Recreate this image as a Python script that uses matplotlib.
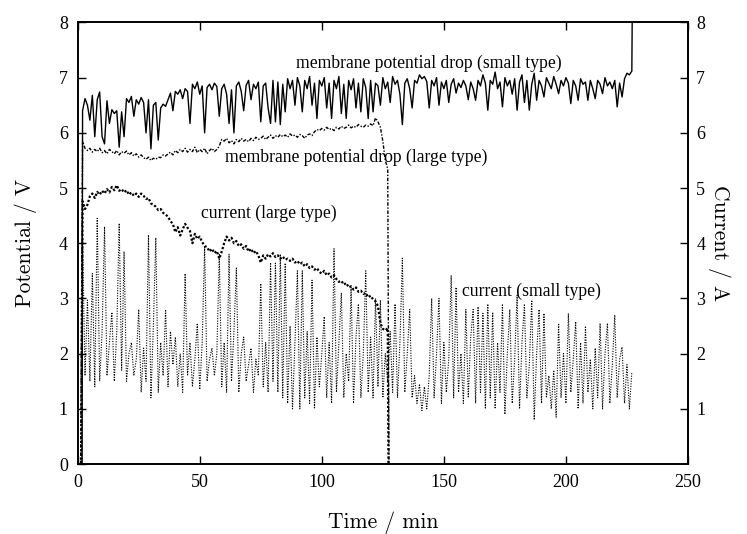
"""Membrane potential drop and cell current versus time, small and large cell type."""
import matplotlib

matplotlib.use("Agg")
import matplotlib.pyplot as plt
import numpy as np

# ---- data (1 min sampling) ----
# membrane potential drop, small type, t = 2 .. 227 min
pot_small = [
    6.40, 6.62, 6.50, 6.23, 6.68, 5.93, 6.60, 6.74, 5.93, 5.80,
    6.58, 6.17, 6.42, 6.35, 6.40, 5.74, 6.38, 5.93, 6.62, 6.55,
    6.66, 6.30, 6.60, 6.52, 6.64, 6.55, 6.00, 6.60, 5.71, 6.50,
    6.55, 5.87, 6.45, 6.52, 6.48, 6.60, 6.72, 6.40, 6.75, 6.70,
    6.78, 6.62, 6.80, 6.75, 6.17, 6.88, 6.80, 6.92, 6.70, 6.85,
    6.00, 6.82, 6.88, 6.78, 6.90, 6.84, 6.30, 6.80, 6.88, 6.70,
    6.17, 6.78, 6.00, 6.85, 6.92, 6.75, 6.40, 6.86, 6.95, 6.60,
    6.88, 6.80, 6.92, 6.20, 6.85, 6.90, 6.45, 6.17, 6.95, 6.20,
    6.92, 6.15, 6.88, 6.38, 6.98, 6.80, 6.95, 6.50, 7.00, 6.85,
    6.38, 6.95, 6.80, 7.02, 6.50, 6.90, 6.26, 6.95, 6.85, 7.00,
    6.45, 6.90, 6.26, 6.95, 6.80, 7.02, 6.35, 6.88, 6.26, 6.95,
    6.78, 6.98, 6.45, 6.90, 6.38, 6.98, 6.82, 6.26, 6.95, 6.38,
    6.90, 6.85, 6.50, 7.00, 6.80, 6.92, 6.55, 7.02, 6.88, 6.95,
    6.70, 6.15, 6.90, 6.98, 6.80, 6.45, 6.95, 6.90, 7.05, 6.98,
    7.02, 6.93, 6.45, 6.95, 6.85, 7.00, 6.50, 6.92, 6.80, 6.95,
    6.55, 6.88, 6.98, 6.72, 6.90, 6.82, 6.95, 6.85, 6.60, 6.92,
    6.80, 6.59, 6.95, 6.85, 7.05, 6.90, 6.41, 6.95, 6.88, 7.10,
    6.80, 6.92, 6.47, 7.00, 6.85, 6.95, 6.70, 6.98, 6.41, 6.92,
    7.05, 6.55, 6.95, 6.41, 6.88, 7.08, 6.59, 6.95, 6.85, 6.65,
    7.00, 6.90, 6.80, 7.02, 6.88, 6.71, 6.95, 6.85, 7.00, 6.90,
    6.53, 6.95, 6.85, 6.59, 6.98, 6.88, 6.92, 6.59, 6.95, 6.80,
    6.62, 6.95, 6.88, 6.71, 7.00, 6.85, 6.92, 6.80, 6.95, 6.47,
    6.90, 6.65, 6.98, 7.08, 7.05, 7.12,
]

# membrane potential drop, large type, t = 2 .. 127 min
pot_large = [
    5.85, 5.72, 5.68, 5.72, 5.65, 5.70, 5.66, 5.72, 5.64, 5.68,
    5.62, 5.70, 5.66, 5.62, 5.68, 5.60, 5.66, 5.63, 5.67, 5.60,
    5.64, 5.58, 5.62, 5.56, 5.60, 5.55, 5.52, 5.56, 5.50, 5.54,
    5.52, 5.56, 5.55, 5.60, 5.58, 5.62, 5.65, 5.60, 5.68, 5.64,
    5.70, 5.66, 5.72, 5.65, 5.70, 5.66, 5.74, 5.64, 5.70, 5.66,
    5.72, 5.62, 5.68, 5.72, 5.66, 5.70, 5.76, 5.88, 5.85, 5.90,
    5.82, 5.86, 5.80, 5.88, 5.84, 5.90, 5.85, 5.88, 5.84, 5.90,
    5.86, 5.92, 5.88, 5.90, 5.94, 5.88, 5.92, 5.96, 5.90, 5.95,
    5.92, 5.97, 5.93, 5.96, 5.92, 5.98, 5.94, 5.96, 5.92, 5.97,
    5.95, 5.90, 5.96, 5.98, 5.95, 6.02, 6.06, 6.04, 6.08, 6.05,
    6.10, 6.06, 6.08, 6.04, 6.10, 6.07, 6.12, 6.08, 6.10, 6.14,
    6.09, 6.12, 6.10, 6.15, 6.12, 6.10, 6.14, 6.12, 6.16, 6.13,
    6.27, 6.20, 6.10, 5.85, 5.50, 5.35,
]

# current, large type, t = 2 .. 127 min
cur_large = [
    4.76, 4.62, 4.70, 4.85, 4.90, 4.82, 4.93, 4.88, 4.95, 4.90,
    4.98, 4.92, 5.02, 4.96, 5.05, 4.95, 4.98, 4.92, 4.96, 4.88,
    4.92, 4.86, 4.90, 4.84, 4.90, 4.86, 4.80, 4.82, 4.72, 4.70,
    4.66, 4.60, 4.62, 4.55, 4.52, 4.48, 4.40, 4.35, 4.20, 4.29,
    4.14, 4.25, 4.35, 4.28, 4.22, 4.00, 4.17, 4.08, 4.12, 4.02,
    3.95, 3.93, 3.85, 3.90, 3.82, 3.86, 3.72, 3.85, 4.00, 4.12,
    4.05, 4.10, 4.00, 4.04, 3.95, 3.98, 3.90, 3.95, 3.85, 3.90,
    3.82, 3.86, 3.78, 3.65, 3.78, 3.72, 3.80, 3.76, 3.82, 3.75,
    3.78, 3.72, 3.76, 3.70, 3.72, 3.68, 3.72, 3.65, 3.68, 3.62,
    3.65, 3.58, 3.62, 3.55, 3.58, 3.52, 3.55, 3.48, 3.45, 3.50,
    3.42, 3.45, 3.38, 3.42, 3.35, 3.30, 3.32, 3.25, 3.28, 3.20,
    3.22, 3.16, 3.20, 3.12, 3.14, 3.08, 3.10, 3.02, 3.05, 2.98,
    2.95, 2.86, 2.55, 2.45, 2.42, 2.46,
]

# current, small type, t = 2 .. 227 min
cur_small = [
    4.10, 1.60, 2.97, 1.50, 3.45, 1.40, 4.45, 1.50, 2.40, 4.30,
    1.60, 2.20, 2.75, 1.50, 2.40, 4.36, 1.70, 3.85, 1.50, 2.00,
    2.20, 1.60, 1.90, 2.80, 1.30, 2.10, 1.50, 4.15, 1.20, 2.50,
    4.10, 1.30, 2.20, 1.60, 2.80, 1.40, 2.40, 1.80, 2.30, 1.40,
    2.00, 1.30, 3.45, 1.60, 2.20, 1.40, 1.90, 2.55, 1.35, 2.20,
    3.95, 1.50, 1.90, 2.10, 1.60, 2.00, 3.80, 1.40, 2.20, 1.30,
    3.80, 1.50, 2.40, 3.55, 1.30, 2.00, 2.30, 1.50, 1.80, 2.10,
    1.30, 1.90, 1.60, 3.27, 1.40, 2.20, 1.30, 3.65, 1.50, 3.64,
    1.30, 3.80, 1.20, 3.64, 1.10, 2.50, 1.00, 2.20, 3.50, 1.00,
    3.50, 1.20, 2.40, 1.10, 3.33, 1.00, 2.30, 1.40, 2.00, 2.67,
    1.20, 2.20, 1.10, 3.90, 1.30, 2.20, 3.10, 1.20, 2.00, 1.50,
    3.20, 1.10, 2.30, 2.90, 1.20, 2.00, 3.50, 1.30, 2.30, 1.20,
    3.00, 1.40, 2.97, 1.20, 2.00, 1.50, 2.40, 1.30, 2.90, 1.20,
    2.20, 3.73, 1.30, 2.00, 2.80, 1.20, 1.60, 1.10, 1.45, 0.97,
    1.40, 1.00, 1.60, 3.00, 1.20, 2.00, 3.00, 1.10, 2.20, 1.30,
    1.90, 3.42, 1.20, 3.20, 1.30, 2.00, 1.10, 2.80, 1.20, 2.30,
    2.80, 1.10, 2.85, 1.30, 2.73, 1.00, 2.90, 1.20, 2.75, 1.00,
    2.20, 1.30, 2.90, 0.90, 2.00, 2.80, 1.10, 1.90, 3.06, 1.00,
    2.20, 2.90, 1.20, 1.80, 2.97, 0.80, 2.00, 2.80, 1.10, 2.73,
    1.20, 1.60, 1.00, 1.70, 0.85, 2.55, 1.20, 2.00, 1.10, 2.73,
    1.30, 1.90, 2.58, 1.00, 2.20, 1.10, 2.50, 1.30, 1.90, 1.00,
    2.10, 1.20, 2.55, 1.00, 2.00, 2.55, 1.10, 1.80, 2.70, 1.20,
    1.90, 2.12, 1.10, 1.80, 1.00, 1.67,
]

# switch-on and switch-off points (time, value)
pot_small_on = (1.8, 0.0)
pot_small_off = (227.3, 9.0)
pot_large_on = (1.2, 0.0)
pot_large_off = (127.5, 0.0)
cur_large_on = (1.4, 0.0)
cur_large_off = (127.3, 0.0)
cur_small_on = (1.6, 0.0)

LABEL_FONT = "cmr10"
TEXT_FONT = "Liberation Serif"


def series(values, on, off=None):
    t = np.arange(2, 2 + len(values), dtype=float)
    v = np.asarray(values, dtype=float)
    t = np.r_[on[0], t]
    v = np.r_[on[1], v]
    if off is not None:
        t = np.r_[t, off[0]]
        v = np.r_[v, off[1]]
    return t, v


def main():
    fig = plt.figure(figsize=(7.47, 5.34), dpi=100)
    ax = fig.add_axes([0.104, 0.131, 0.817, 0.827])
    ax2 = ax.twinx()

    t, v = series(pot_small, pot_small_on, pot_small_off)
    ax.plot(t, v, color="black", linewidth=1.0)
    t, v = series(pot_large, pot_large_on, pot_large_off)
    ax.plot(t, v, color="black", linewidth=1.0, linestyle=(0, (2.5, 1.2, 1, 1.2)))
    t, v = series(cur_large, cur_large_on, cur_large_off)
    ax2.plot(t, v, color="black", linewidth=1.6, linestyle=(0, (1, 0.9)))
    t, v = series(cur_small, cur_small_on)
    ax2.plot(t, v, color="black", linewidth=0.8, linestyle=(0, (1, 1.3)))

    for a in (ax, ax2):
        a.set_xlim(0, 250)
        a.set_ylim(0, 8)
        for s in a.spines.values():
            s.set_linewidth(1.2)

    ax.set_xticks([0, 50, 100, 150, 200, 250])
    ax.set_yticks(range(0, 9))
    ax2.set_yticks(range(1, 9))
    ax.tick_params(direction="in", length=6, width=1.0, pad=7, top=True,
                   labelsize=13)
    ax2.tick_params(direction="in", length=6, width=1.0, pad=6, labelsize=13)
    for lab in ax.get_xticklabels() + ax.get_yticklabels() + ax2.get_yticklabels():
        lab.set_family(TEXT_FONT)

    ax.set_xlabel("Time / min", family=LABEL_FONT, fontsize=15.5, labelpad=15)
    ax.set_ylabel("Potential / V", family=LABEL_FONT, fontsize=15.5, labelpad=16)
    ax2.set_ylabel("Current / A", family=LABEL_FONT, fontsize=15.5, labelpad=18,
                   rotation=270)

    notes = [
        ("membrane potential drop (small type)", 89.5, 7.25),
        ("membrane potential drop (large type)", 60.5, 5.56),
        ("current (large type)", 50.5, 4.55),
        ("current (small type)", 157.5, 3.13),
    ]
    for text, x, y in notes:
        ax.text(x, y, text, family=TEXT_FONT, fontsize=12.7, ha="left",
                va="center", zorder=5)

    fig.savefig("out.png", dpi=100)
    plt.close(fig)


if __name__ == "__main__":
    main()
